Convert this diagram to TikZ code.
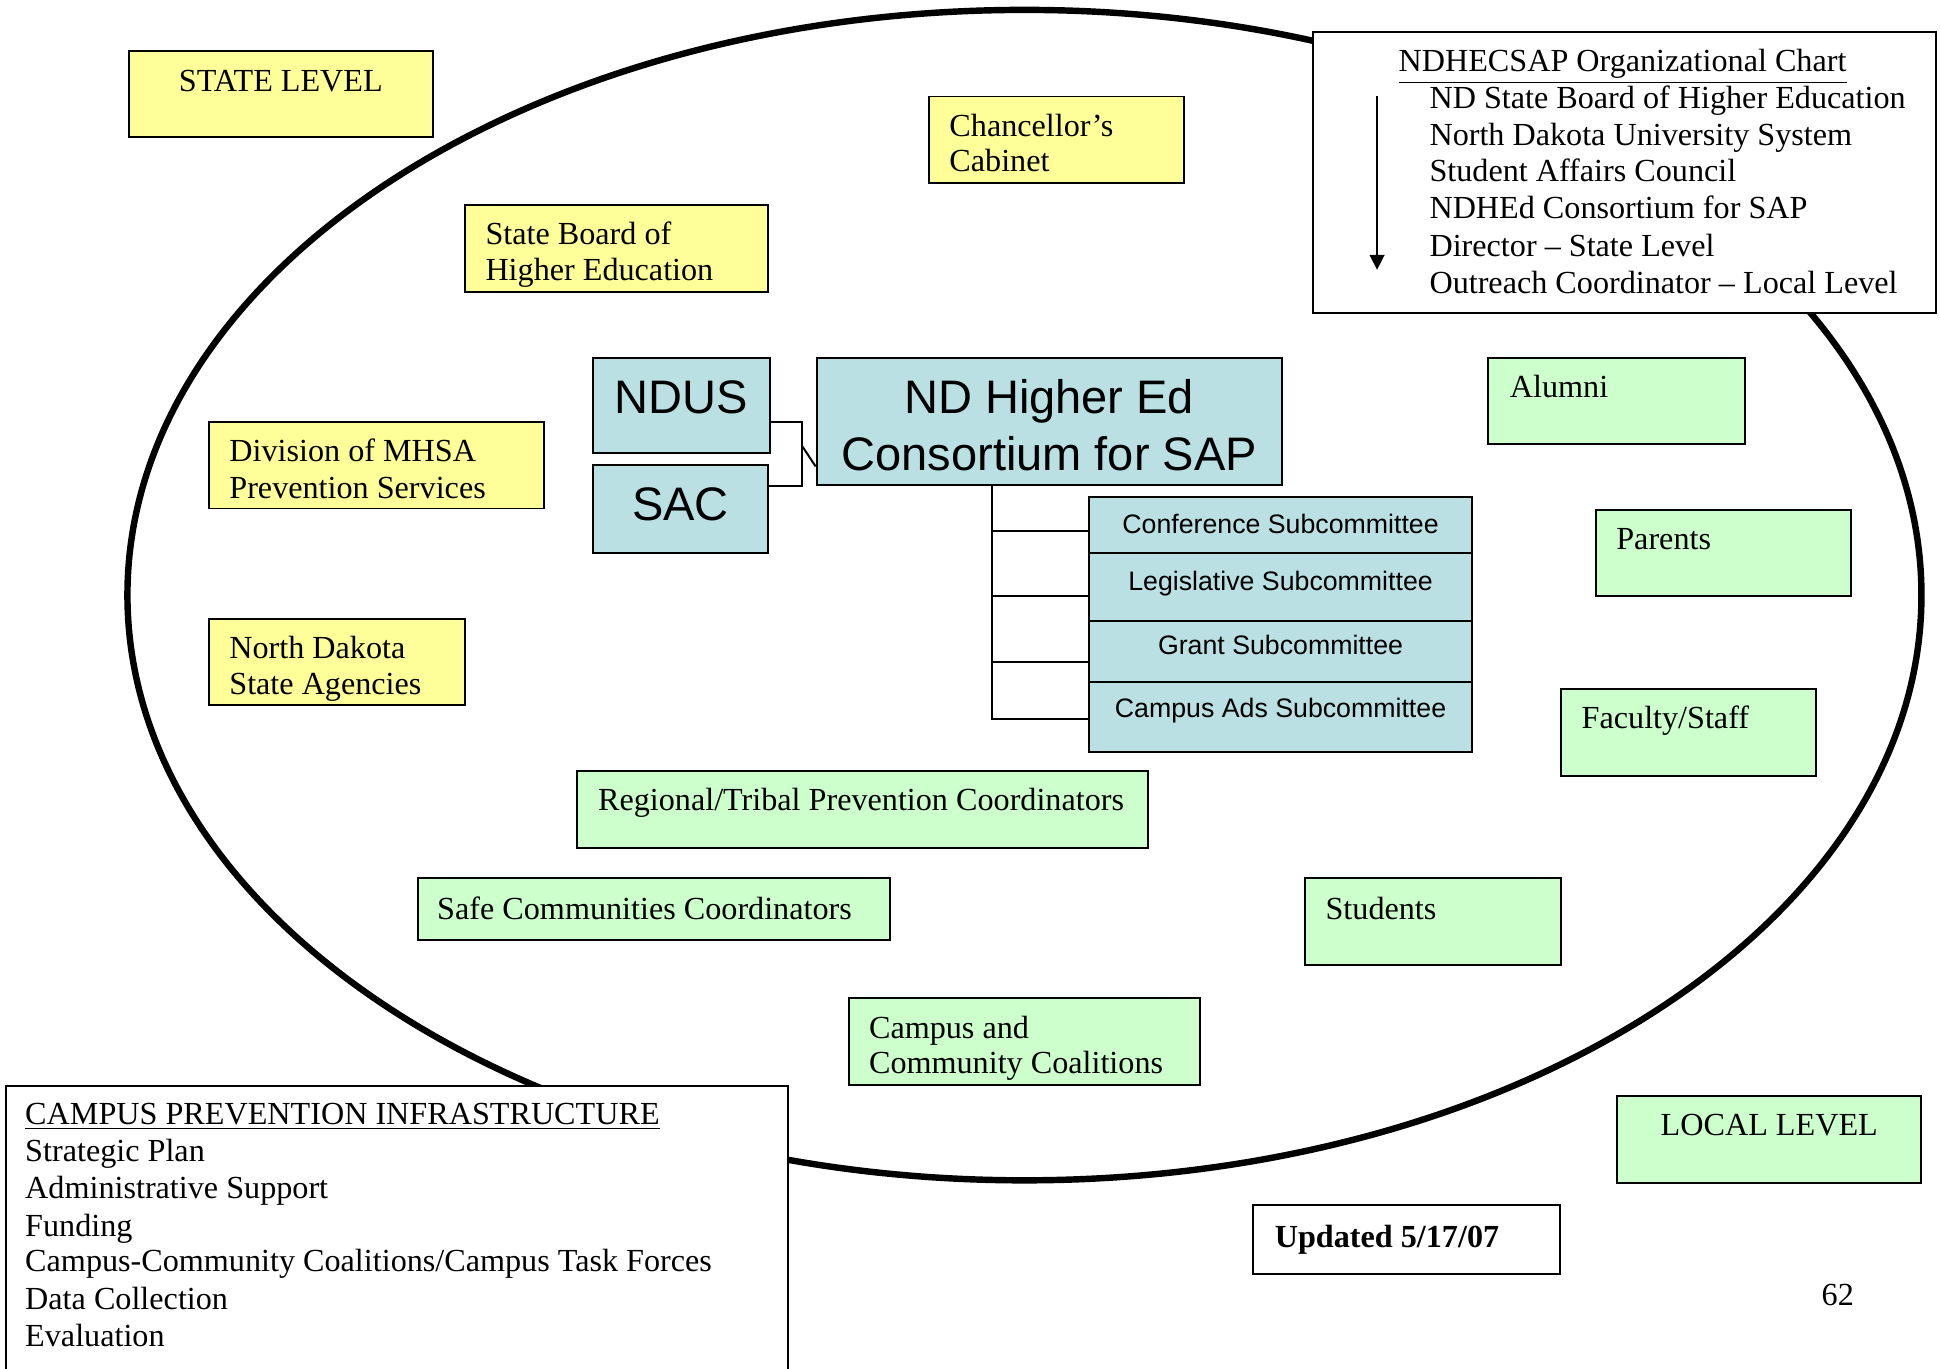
\documentclass[tikz,border=0pt]{standalone}
\usepackage{fontspec}
\setmainfont{Liberation Serif}
\setsansfont{Liberation Sans}
\usetikzlibrary{fit,arrows.meta}
\definecolor{ylw}{HTML}{FFFF99}
\definecolor{blu}{HTML}{BBE0E3}
\definecolor{grn}{HTML}{CCFFCC}
\begin{document}
\begin{tikzpicture}[x=0.5pt,y=-0.5pt,
  box/.style={draw=black, line width=0.8pt, inner sep=0pt},
  ybox/.style={box, fill=ylw},
  bbox/.style={box, fill=blu},
  gbox/.style={box, fill=grn},
  wbox/.style={box, fill=white},
  txt/.style={anchor=base west, inner sep=0pt, font=\fontsize{13}{15}\selectfont},
  ctxt/.style={txt, anchor=base},
  big/.style={anchor=base, inner sep=0pt, font=\sffamily\fontsize{19}{22}\selectfont},
  sub/.style={anchor=base, inner sep=0pt, font=\sffamily\fontsize{10.8}{13}\selectfont},
  conn/.style={draw=black, line width=0.8pt}]
\useasboundingbox (0,0) rectangle (1568,1106);
% big ellipse
\draw[line width=2.6pt] (828,481) ellipse [x radius=362.5pt, y radius=236.5pt];

% yellow (state level) boxes
\node[ybox, fit={(104,41)(350,111)}] (stl) {};
\node[ctxt] (stlt) at (227,74) {STATE LEVEL};
\node[ybox, fit={(751,78)(957,148)}] (cc) {};
\node[txt] (cc1) at (767,110) {Chancellor’s};
\node[txt] (cc2) at (767,139) {Cabinet};
\node[ybox, fit={(376,166)(621,236)}] (sb) {};
\node[txt] (sb1) at (392,198) {State Board of};
\node[txt] (sb2) at (392,227) {Higher Education};
\node[ybox, fit={(169,341)(440,411)}] (dm) {};
\node[txt] (dm1) at (185,373) {Division of MHSA};
\node[txt] (dm2) at (185,403) {Prevention Services};
\node[ybox, fit={(169,500)(376,570)}] (nd) {};
\node[txt] (nd1) at (185,532) {North Dakota};
\node[txt] (nd2) at (185,561) {State Agencies};

% blue boxes
\node[bbox, fit={(479,289)(622,366)}] (ndus) {};
\node[big] (ndust) at (550.5,334) {NDUS};
\node[bbox, fit={(479,376)(621,447)}] (sac) {};
\node[big] (sact) at (550,421) {SAC};
\node[bbox, fit={(660,289)(1036,392)}] (cons) {};
\node[big] (cons1) at (848,334) {ND Higher Ed};
\node[big] (cons2) at (848,380) {Consortium for SAP};

\node[bbox, fit={(880,402)(1190,447)}] (s1) {};
\node[bbox, fit={(880,447)(1190,502)}] (s2) {};
\node[bbox, fit={(880,502)(1190,551)}] (s3) {};
\node[bbox, fit={(880,551)(1190,608)}] (s4) {};
\node[sub] (s1t) at (1035,431) {Conference Subcommittee};
\node[sub] (s2t) at (1035,477) {Legislative Subcommittee};
\node[sub] (s3t) at (1035,529) {Grant Subcommittee};
\node[sub] (s4t) at (1035,580) {Campus Ads Subcommittee};

% connectors
\coordinate (b1) at (648,341);
\coordinate (b2) at (648,393);
\coordinate (bm) at (648,360);
\coordinate (bc) at (660,377);
\draw[conn] (ndus.east |- b1) -- (b1) -- (b2) -- (sac.east |- b2);
\draw[conn] (bm) -- (cons.west |- bc);
\coordinate (j1) at (802,429);
\coordinate (j2) at (802,482);
\coordinate (j3) at (802,535);
\coordinate (j4) at (802,581);
\draw[conn] (cons.south -| j4) -- (j4) -- (s4.west |- j4);
\draw[conn] (j1) -- (s1.west |- j1);
\draw[conn] (j2) -- (s2.west |- j2);
\draw[conn] (j3) -- (s3.west |- j3);

% green (local level) boxes
\node[gbox, fit={(1203,289)(1410,359)}] (al) {};
\node[txt] (alt) at (1220,321) {Alumni};
\node[gbox, fit={(1290,412)(1496,482)}] (pa) {};
\node[txt] (pat) at (1306,444) {Parents};
\node[gbox, fit={(1262,557)(1468,627)}] (fs) {};
\node[txt] (fst) at (1278,589) {Faculty/Staff};
\node[gbox, fit={(466,623)(928,685)}] (rt) {};
\node[txt] (rtt) at (483,655) {Regional/Tribal Prevention Coordinators};
\node[gbox, fit={(338,710)(719,760)}] (sc) {};
\node[txt] (sct) at (353,743) {Safe Communities Coordinators};
\node[gbox, fit={(1055,710)(1262,780)}] (st) {};
\node[txt] (stt) at (1071,743) {Students};
\node[gbox, fit={(686,807)(970,877)}] (cm) {};
\node[txt] (cm1) at (702,839) {Campus and};
\node[txt] (cm2) at (702,868) {Community Coalitions};
\node[gbox, fit={(1307,886)(1553,956)}] (ll) {};
\node[ctxt] (llt) at (1430,918) {LOCAL LEVEL};

% white boxes
\node[wbox, fit={(1013,974)(1261,1030)}] (up) {};
\node[txt, font=\bfseries\fontsize{13}{15}\selectfont] (upt) at (1030,1008) {Updated 5/17/07};
\node[txt] (pg) at (1472,1055) {62};

\node[wbox, fit={(1061,26)(1565,253)}] (org) {};
\node[txt] (org0) at (1130,58) {\underline{NDHECSAP Organizational Chart}};
\node[txt] (org1) at (1155,88) {ND State Board of Higher Education};
\node[txt] (org2) at (1155,118) {North Dakota University System};
\node[txt] (org3) at (1155,147) {Student Affairs Council};
\node[txt] (org4) at (1155,177) {NDHEd Consortium for SAP};
\node[txt] (org5) at (1155,207) {Director – State Level};
\node[txt] (org6) at (1155,237) {Outreach Coordinator – Local Level};
\coordinate (a1) at (1113,78);
\coordinate (a2) at (1113,218);
\draw[line width=0.65pt, -{Triangle[length=6pt,width=6pt]}] (a1) -- (a2);

\node[wbox, fit={(5,878)(637,1120)}] (cpi) {};
\node[txt] (cpi0) at (20,909) {\underline{CAMPUS PREVENTION INFRASTRUCTURE}};
\node[txt] (cpi1) at (20,939) {Strategic Plan};
\node[txt] (cpi2) at (20,969) {Administrative Support};
\node[txt] (cpi3) at (20,999) {Funding};
\node[txt] (cpi4) at (20,1028) {Campus-Community Coalitions/Campus Task Forces};
\node[txt] (cpi5) at (20,1058) {Data Collection};
\node[txt] (cpi6) at (20,1088) {Evaluation};
\end{tikzpicture}
\end{document}
